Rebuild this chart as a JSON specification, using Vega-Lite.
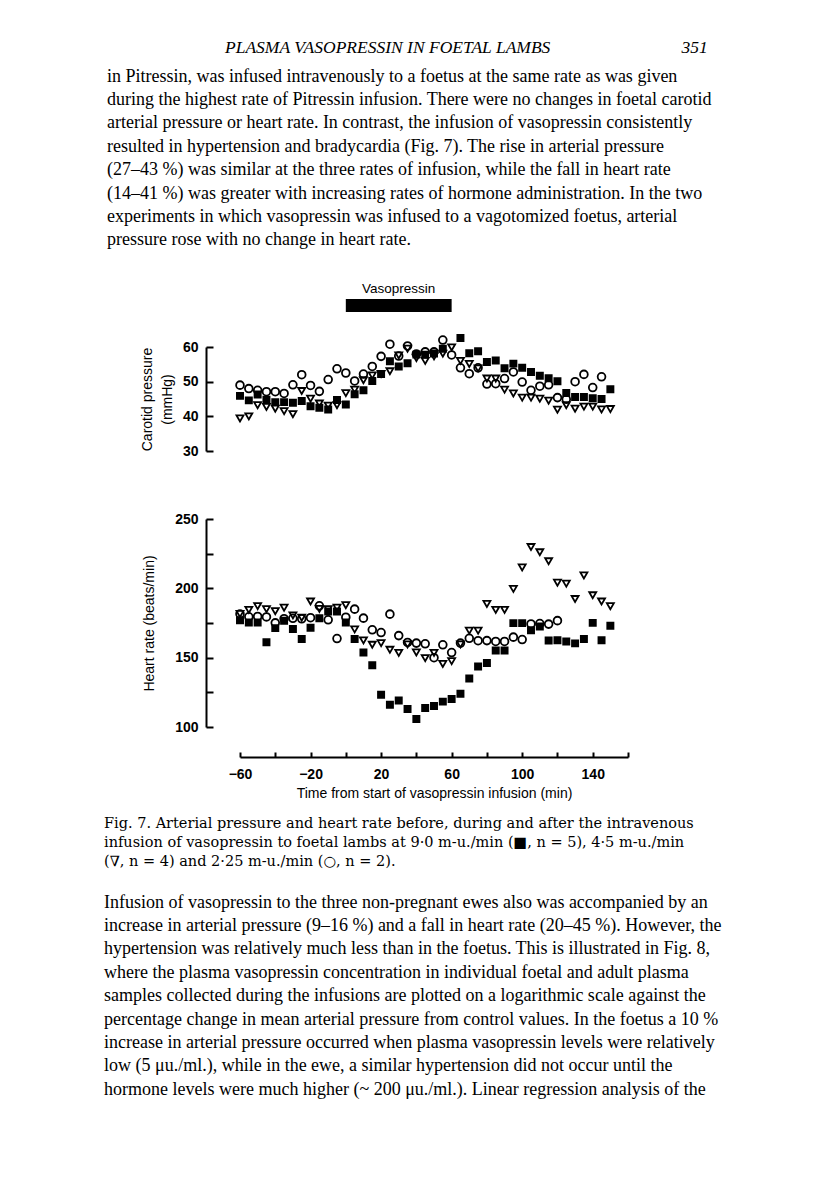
{
  "$schema": "https://vega.github.io/schema/vega-lite/v6.json",
  "background": "white",
  "padding": {"left": 104, "top": 39, "right": 5, "bottom": 5},
  "config": {
    "view": {"stroke": null},
    "axis": {"domainColor": "black", "domainWidth": 2, "tickColor": "black", "tickWidth": 2, "grid": false,
      "labelFont": "Liberation Sans", "labelFontWeight": "bold", "labelFontSize": 14, "labelColor": "black",
      "titleFont": "Liberation Sans", "titleFontSize": 14, "titleFontWeight": "normal", "titleColor": "black"}
  },
  "title": {
    "text": "PLASMA VASOPRESSIN IN FOETAL LAMBS\u2003\u2003\u2003\u2003\u2003\u2003\u2003\u2002351",
    "font": "Liberation Serif", "fontStyle": "italic", "fontSize": 17.5, "fontWeight": "normal", "color": "black",
    "anchor": "start", "frame": "group", "dx": -15, "offset": 11
  },
  "datasets": {
    "pressure": [
      {"t": -60, "dose": "9.0", "v": 45.9}, {"t": -55, "dose": "9.0", "v": 44.6}, {"t": -50, "dose": "9.0", "v": 46.3}, {"t": -45, "dose": "9.0", "v": 44.8}, {"t": -40, "dose": "9.0", "v": 44.1}, {"t": -35, "dose": "9.0", "v": 44.1}, {"t": -30, "dose": "9.0", "v": 43.9}, {"t": -25, "dose": "9.0", "v": 44.4}, {"t": -20, "dose": "9.0", "v": 42.9}, {"t": -15, "dose": "9.0", "v": 42.5}, {"t": -10, "dose": "9.0", "v": 42.0}, {"t": -5, "dose": "9.0", "v": 44.7}, {"t": 0, "dose": "9.0", "v": 43.4}, {"t": 5, "dose": "9.0", "v": 46.4}, {"t": 10, "dose": "9.0", "v": 47.5}, {"t": 15, "dose": "9.0", "v": 50.2}, {"t": 20, "dose": "9.0", "v": 52.2}, {"t": 25, "dose": "9.0", "v": 55.9}, {"t": 30, "dose": "9.0", "v": 54.4}, {"t": 35, "dose": "9.0", "v": 55.3}, {"t": 40, "dose": "9.0", "v": 57.8}, {"t": 45, "dose": "9.0", "v": 57.8}, {"t": 50, "dose": "9.0", "v": 58.1}, {"t": 55, "dose": "9.0", "v": 59.5}, {"t": 65, "dose": "9.0", "v": 62.6}, {"t": 70, "dose": "9.0", "v": 58.2}, {"t": 75, "dose": "9.0", "v": 58.8}, {"t": 80, "dose": "9.0", "v": 55.7}, {"t": 85, "dose": "9.0", "v": 56.1}, {"t": 90, "dose": "9.0", "v": 53.9}, {"t": 95, "dose": "9.0", "v": 55.2}, {"t": 100, "dose": "9.0", "v": 54.0}, {"t": 105, "dose": "9.0", "v": 52.8}, {"t": 110, "dose": "9.0", "v": 51.7}, {"t": 115, "dose": "9.0", "v": 51.0}, {"t": 120, "dose": "9.0", "v": 50.1}, {"t": 125, "dose": "9.0", "v": 46.7}, {"t": 130, "dose": "9.0", "v": 45.6}, {"t": 135, "dose": "9.0", "v": 45.6}, {"t": 140, "dose": "9.0", "v": 45.2}, {"t": 145, "dose": "9.0", "v": 45.0}, {"t": 150, "dose": "9.0", "v": 47.8},
      {"t": -60, "dose": "4.5", "v": 39.4}, {"t": -55, "dose": "4.5", "v": 40.0}, {"t": -50, "dose": "4.5", "v": 43.2}, {"t": -45, "dose": "4.5", "v": 42.7}, {"t": -40, "dose": "4.5", "v": 42.2}, {"t": -35, "dose": "4.5", "v": 41.5}, {"t": -30, "dose": "4.5", "v": 40.6}, {"t": -25, "dose": "4.5", "v": 47.3}, {"t": -20, "dose": "4.5", "v": 45.1}, {"t": -15, "dose": "4.5", "v": 43.7}, {"t": -10, "dose": "4.5", "v": 43.1}, {"t": -5, "dose": "4.5", "v": 43.2}, {"t": 0, "dose": "4.5", "v": 46.7}, {"t": 5, "dose": "4.5", "v": 47.7}, {"t": 10, "dose": "4.5", "v": 50.4}, {"t": 15, "dose": "4.5", "v": 51.8}, {"t": 20, "dose": "4.5", "v": 52.2}, {"t": 25, "dose": "4.5", "v": 53.0}, {"t": 30, "dose": "4.5", "v": 57.6}, {"t": 35, "dose": "4.5", "v": 59.5}, {"t": 40, "dose": "4.5", "v": 56.8}, {"t": 45, "dose": "4.5", "v": 56.0}, {"t": 50, "dose": "4.5", "v": 57.3}, {"t": 55, "dose": "4.5", "v": 58.1}, {"t": 60, "dose": "4.5", "v": 59.9}, {"t": 65, "dose": "4.5", "v": 56.0}, {"t": 70, "dose": "4.5", "v": 55.1}, {"t": 75, "dose": "4.5", "v": 53.8}, {"t": 80, "dose": "4.5", "v": 50.9}, {"t": 85, "dose": "4.5", "v": 50.9}, {"t": 90, "dose": "4.5", "v": 47.7}, {"t": 95, "dose": "4.5", "v": 46.6}, {"t": 100, "dose": "4.5", "v": 45.4}, {"t": 105, "dose": "4.5", "v": 45.4}, {"t": 110, "dose": "4.5", "v": 45.1}, {"t": 115, "dose": "4.5", "v": 44.5}, {"t": 120, "dose": "4.5", "v": 41.9}, {"t": 125, "dose": "4.5", "v": 43.2}, {"t": 130, "dose": "4.5", "v": 42.2}, {"t": 135, "dose": "4.5", "v": 42.8}, {"t": 140, "dose": "4.5", "v": 42.8}, {"t": 145, "dose": "4.5", "v": 42.0}, {"t": 150, "dose": "4.5", "v": 42.1},
      {"t": -60, "dose": "2.25", "v": 49.0}, {"t": -55, "dose": "2.25", "v": 48.0}, {"t": -50, "dose": "2.25", "v": 47.5}, {"t": -45, "dose": "2.25", "v": 47.1}, {"t": -40, "dose": "2.25", "v": 47.1}, {"t": -35, "dose": "2.25", "v": 46.6}, {"t": -30, "dose": "2.25", "v": 49.1}, {"t": -25, "dose": "2.25", "v": 52.0}, {"t": -20, "dose": "2.25", "v": 48.9}, {"t": -15, "dose": "2.25", "v": 47.2}, {"t": -10, "dose": "2.25", "v": 50.6}, {"t": -5, "dose": "2.25", "v": 53.7}, {"t": 0, "dose": "2.25", "v": 52.5}, {"t": 5, "dose": "2.25", "v": 50.2}, {"t": 10, "dose": "2.25", "v": 52.2}, {"t": 15, "dose": "2.25", "v": 54.4}, {"t": 20, "dose": "2.25", "v": 57.3}, {"t": 25, "dose": "2.25", "v": 60.8}, {"t": 30, "dose": "2.25", "v": 57.4}, {"t": 35, "dose": "2.25", "v": 60.3}, {"t": 40, "dose": "2.25", "v": 58.0}, {"t": 45, "dose": "2.25", "v": 58.6}, {"t": 50, "dose": "2.25", "v": 58.6}, {"t": 55, "dose": "2.25", "v": 62.0}, {"t": 60, "dose": "2.25", "v": 57.7}, {"t": 65, "dose": "2.25", "v": 54.0}, {"t": 70, "dose": "2.25", "v": 52.3}, {"t": 75, "dose": "2.25", "v": 54.0}, {"t": 80, "dose": "2.25", "v": 49.3}, {"t": 85, "dose": "2.25", "v": 49.4}, {"t": 90, "dose": "2.25", "v": 50.9}, {"t": 95, "dose": "2.25", "v": 52.8}, {"t": 100, "dose": "2.25", "v": 49.9}, {"t": 105, "dose": "2.25", "v": 47.5}, {"t": 110, "dose": "2.25", "v": 48.7}, {"t": 115, "dose": "2.25", "v": 49.1}, {"t": 120, "dose": "2.25", "v": 45.4}, {"t": 125, "dose": "2.25", "v": 44.9}, {"t": 130, "dose": "2.25", "v": 50.0}, {"t": 135, "dose": "2.25", "v": 52.1}, {"t": 140, "dose": "2.25", "v": 48.3}, {"t": 145, "dose": "2.25", "v": 51.4}
    ],
    "heart": [
      {"t": -60, "dose": "9.0", "v": 177.0}, {"t": -55, "dose": "9.0", "v": 175.4}, {"t": -50, "dose": "9.0", "v": 175.4}, {"t": -45, "dose": "9.0", "v": 161.1}, {"t": -40, "dose": "9.0", "v": 171.3}, {"t": -35, "dose": "9.0", "v": 176.6}, {"t": -30, "dose": "9.0", "v": 170.7}, {"t": -25, "dose": "9.0", "v": 163.4}, {"t": -20, "dose": "9.0", "v": 171.5}, {"t": -15, "dose": "9.0", "v": 178.5}, {"t": -10, "dose": "9.0", "v": 183.3}, {"t": -5, "dose": "9.0", "v": 183.3}, {"t": 0, "dose": "9.0", "v": 175.4}, {"t": 5, "dose": "9.0", "v": 163.5}, {"t": 10, "dose": "9.0", "v": 153.8}, {"t": 15, "dose": "9.0", "v": 144.5}, {"t": 20, "dose": "9.0", "v": 123.3}, {"t": 25, "dose": "9.0", "v": 116.1}, {"t": 30, "dose": "9.0", "v": 119.1}, {"t": 35, "dose": "9.0", "v": 113.0}, {"t": 40, "dose": "9.0", "v": 105.8}, {"t": 45, "dose": "9.0", "v": 113.7}, {"t": 50, "dose": "9.0", "v": 115.2}, {"t": 55, "dose": "9.0", "v": 118.3}, {"t": 60, "dose": "9.0", "v": 120.2}, {"t": 65, "dose": "9.0", "v": 124.0}, {"t": 70, "dose": "9.0", "v": 135.0}, {"t": 75, "dose": "9.0", "v": 143.7}, {"t": 80, "dose": "9.0", "v": 146.1}, {"t": 85, "dose": "9.0", "v": 155.1}, {"t": 90, "dose": "9.0", "v": 155.1}, {"t": 95, "dose": "9.0", "v": 174.9}, {"t": 100, "dose": "9.0", "v": 174.9}, {"t": 105, "dose": "9.0", "v": 169.8}, {"t": 110, "dose": "9.0", "v": 172.5}, {"t": 115, "dose": "9.0", "v": 162.4}, {"t": 120, "dose": "9.0", "v": 162.6}, {"t": 125, "dose": "9.0", "v": 161.7}, {"t": 130, "dose": "9.0", "v": 160.3}, {"t": 135, "dose": "9.0", "v": 163.4}, {"t": 140, "dose": "9.0", "v": 175.1}, {"t": 145, "dose": "9.0", "v": 162.6}, {"t": 150, "dose": "9.0", "v": 173.0},
      {"t": -60, "dose": "4.5", "v": 181.5}, {"t": -55, "dose": "4.5", "v": 184.5}, {"t": -50, "dose": "4.5", "v": 187.2}, {"t": -45, "dose": "4.5", "v": 185.0}, {"t": -40, "dose": "4.5", "v": 183.5}, {"t": -35, "dose": "4.5", "v": 186.0}, {"t": -30, "dose": "4.5", "v": 180.5}, {"t": -25, "dose": "4.5", "v": 178.8}, {"t": -20, "dose": "4.5", "v": 190.5}, {"t": -15, "dose": "4.5", "v": 185.2}, {"t": -10, "dose": "4.5", "v": 185.0}, {"t": -5, "dose": "4.5", "v": 186.0}, {"t": 0, "dose": "4.5", "v": 187.8}, {"t": 5, "dose": "4.5", "v": 170.4}, {"t": 10, "dose": "4.5", "v": 162.5}, {"t": 15, "dose": "4.5", "v": 159.3}, {"t": 20, "dose": "4.5", "v": 160.5}, {"t": 25, "dose": "4.5", "v": 155.7}, {"t": 30, "dose": "4.5", "v": 153.5}, {"t": 35, "dose": "4.5", "v": 159.5}, {"t": 40, "dose": "4.5", "v": 153.8}, {"t": 45, "dose": "4.5", "v": 149.7}, {"t": 50, "dose": "4.5", "v": 153.5}, {"t": 55, "dose": "4.5", "v": 145.5}, {"t": 60, "dose": "4.5", "v": 147.5}, {"t": 65, "dose": "4.5", "v": 159.6}, {"t": 70, "dose": "4.5", "v": 169.5}, {"t": 75, "dose": "4.5", "v": 169.5}, {"t": 80, "dose": "4.5", "v": 188.7}, {"t": 85, "dose": "4.5", "v": 184.5}, {"t": 90, "dose": "4.5", "v": 184.5}, {"t": 95, "dose": "4.5", "v": 199.6}, {"t": 100, "dose": "4.5", "v": 215.1}, {"t": 105, "dose": "4.5", "v": 229.8}, {"t": 110, "dose": "4.5", "v": 226.0}, {"t": 115, "dose": "4.5", "v": 219.5}, {"t": 120, "dose": "4.5", "v": 204.1}, {"t": 125, "dose": "4.5", "v": 203.4}, {"t": 130, "dose": "4.5", "v": 192.3}, {"t": 135, "dose": "4.5", "v": 209.3}, {"t": 140, "dose": "4.5", "v": 195.0}, {"t": 145, "dose": "4.5", "v": 190.5}, {"t": 150, "dose": "4.5", "v": 187.1},
      {"t": -60, "dose": "2.25", "v": 181.5}, {"t": -55, "dose": "2.25", "v": 179.5}, {"t": -50, "dose": "2.25", "v": 179.7}, {"t": -45, "dose": "2.25", "v": 179.4}, {"t": -40, "dose": "2.25", "v": 175.1}, {"t": -35, "dose": "2.25", "v": 178.1}, {"t": -30, "dose": "2.25", "v": 178.4}, {"t": -25, "dose": "2.25", "v": 178.0}, {"t": -20, "dose": "2.25", "v": 178.8}, {"t": -15, "dose": "2.25", "v": 187.4}, {"t": -10, "dose": "2.25", "v": 177.3}, {"t": -5, "dose": "2.25", "v": 163.8}, {"t": 0, "dose": "2.25", "v": 179.2}, {"t": 5, "dose": "2.25", "v": 185.0}, {"t": 10, "dose": "2.25", "v": 178.5}, {"t": 15, "dose": "2.25", "v": 170.1}, {"t": 20, "dose": "2.25", "v": 168.1}, {"t": 25, "dose": "2.25", "v": 181.4}, {"t": 30, "dose": "2.25", "v": 165.9}, {"t": 35, "dose": "2.25", "v": 161.0}, {"t": 40, "dose": "2.25", "v": 160.5}, {"t": 45, "dose": "2.25", "v": 160.0}, {"t": 50, "dose": "2.25", "v": 150.0}, {"t": 55, "dose": "2.25", "v": 159.3}, {"t": 60, "dose": "2.25", "v": 153.7}, {"t": 65, "dose": "2.25", "v": 160.5}, {"t": 70, "dose": "2.25", "v": 164.0}, {"t": 75, "dose": "2.25", "v": 162.2}, {"t": 80, "dose": "2.25", "v": 162.3}, {"t": 85, "dose": "2.25", "v": 161.7}, {"t": 90, "dose": "2.25", "v": 161.7}, {"t": 95, "dose": "2.25", "v": 164.8}, {"t": 100, "dose": "2.25", "v": 163.1}, {"t": 105, "dose": "2.25", "v": 174.3}, {"t": 110, "dose": "2.25", "v": 174.6}, {"t": 115, "dose": "2.25", "v": 174.2}, {"t": 120, "dose": "2.25", "v": 176.7}
    ]
  },
  "vconcat": [
    {
      "width": 388, "height": 13,
      "title": {
        "text": [
          "in Pitressin, was infused intravenously to a foetus at the same rate as was given",
          "during the highest rate of Pitressin infusion. There were no changes in foetal carotid",
          "arterial pressure or heart rate. In contrast, the infusion of vasopressin consistently",
          "resulted in hypertension and bradycardia (Fig. 7). The rise in arterial pressure",
          "(27–43 %) was similar at the three rates of infusion, while the fall in heart rate",
          "(14–41 %) was greater with increasing rates of hormone administration. In the two",
          "experiments in which vasopressin was infused to a vagotomized foetus, arterial",
          "pressure rose with no change in heart rate."
        ],
        "font": "Liberation Serif", "fontSize": 18, "fontWeight": "normal", "color": "black",
        "lineHeight": 23.4, "anchor": "start", "frame": "group", "dx": -133, "offset": 32
      },
      "data": {"values": [{"event": "Vasopressin", "start": 0, "end": 60}]},
      "transform": [{"calculate": "(datum.start + datum.end) / 2", "as": "mid"}],
      "layer": [
        {
          "mark": {"type": "rect", "color": "black"},
          "encoding": {
            "x": {"field": "start", "type": "quantitative", "scale": {"domain": [-60, 160], "nice": false, "zero": false}, "axis": null},
            "x2": {"field": "end"}
          }
        },
        {
          "mark": {"type": "text", "dy": -17, "font": "Liberation Sans", "fontSize": 13.5, "color": "black"},
          "encoding": {
            "x": {"field": "mid", "type": "quantitative", "scale": {"domain": [-60, 160], "nice": false, "zero": false}, "axis": null},
            "text": {"field": "event"}
          }
        }
      ]
    },
    {
      "vconcat": [
        {
          "width": 388, "height": 104,
          "data": {"name": "pressure"},
          "mark": {"type": "point", "opacity": 1, "strokeWidth": 1.8},
          "encoding": {
            "x": {"field": "t", "type": "quantitative", "scale": {"domain": [-60, 160], "nice": false, "zero": false}, "axis": null},
            "y": {"field": "v", "type": "quantitative", "scale": {"domain": [30, 60], "nice": false, "zero": false},
              "axis": {"values": [30, 40, 50, 60], "offset": 34, "tickSize": -7, "labelPadding": 15,
                "title": ["Carotid pressure", "(mmHg)"], "titleLineHeight": 20, "titlePadding": 8}},
            "shape": {"field": "dose", "type": "nominal", "scale": {"domain": ["9.0", "4.5", "2.25"], "range": ["square", "triangle-down", "circle"]}, "legend": null},
            "fill": {"field": "dose", "type": "nominal", "scale": {"domain": ["9.0", "4.5", "2.25"], "range": ["black", "transparent", "transparent"]}, "legend": null},
            "size": {"field": "dose", "type": "nominal", "scale": {"domain": ["9.0", "4.5", "2.25"], "range": [38, 60, 44]}, "legend": null},
            "stroke": {"value": "black"}
          }
        },
        {
          "width": 388, "height": 208,
          "title": {
            "text": [
              "Fig. 7. Arterial pressure and heart rate before, during and after the intravenous",
              "infusion of vasopressin to foetal lambs at 9·0 m-u./min (■, n = 5), 4·5 m-u./min",
              "(∇, n = 4) and 2·25 m-u./min (○, n = 2)."
            ],
            "orient": "bottom", "anchor": "start", "frame": "group", "dx": -136, "offset": 17,
            "font": "DejaVu Serif", "fontSize": 14.5, "fontWeight": "normal", "color": "black", "lineHeight": 19,
            "subtitle": [
              "Infusion of vasopressin to the three non-pregnant ewes also was accompanied by an",
              "increase in arterial pressure (9–16 %) and a fall in heart rate (20–45 %). However, the",
              "hypertension was relatively much less than in the foetus. This is illustrated in Fig. 8,",
              "where the plasma vasopressin concentration in individual foetal and adult plasma",
              "samples collected during the infusions are plotted on a logarithmic scale against the",
              "percentage change in mean arterial pressure from control values. In the foetus a 10 %",
              "increase in arterial pressure occurred when plasma vasopressin levels were relatively",
              "low (5 μu./ml.), while in the ewe, a similar hypertension did not occur until the",
              "hormone levels were much higher (~ 200 μu./ml.). Linear regression analysis of the"
            ],
            "subtitleFont": "Liberation Serif", "subtitleFontSize": 18, "subtitleColor": "black", "subtitleLineHeight": 23.4, "subtitlePadding": 24
          },
          "data": {"name": "heart"},
          "mark": {"type": "point", "opacity": 1, "strokeWidth": 1.8},
          "encoding": {
            "x": {"field": "t", "type": "quantitative", "scale": {"domain": [-60, 160], "nice": false, "zero": false},
              "axis": {"values": [-60, -40, -20, 0, 20, 40, 60, 80, 100, 120, 140, 160], "labelExpr": "(datum.value + 60) % 40 === 0 ? datum.label : ''",
                "offset": 30, "tickSize": -5, "labelPadding": 15, "labelFlush": false, "title": "Time from start of vasopressin infusion (min)", "titlePadding": 5}},
            "y": {"field": "v", "type": "quantitative", "scale": {"domain": [100, 250], "nice": false, "zero": false},
              "axis": {"values": [100, 125, 150, 175, 200, 225, 250], "labelExpr": "datum.value % 50 === 0 ? datum.label : ''", "offset": 34, "tickSize": -7, "labelPadding": 15,
                "title": "Heart rate (beats/min)", "titlePadding": 18}},
            "shape": {"field": "dose", "type": "nominal", "scale": {"domain": ["9.0", "4.5", "2.25"], "range": ["square", "triangle-down", "circle"]}, "legend": null},
            "fill": {"field": "dose", "type": "nominal", "scale": {"domain": ["9.0", "4.5", "2.25"], "range": ["black", "transparent", "transparent"]}, "legend": null},
            "size": {"field": "dose", "type": "nominal", "scale": {"domain": ["9.0", "4.5", "2.25"], "range": [38, 60, 44]}, "legend": null},
            "stroke": {"value": "black"}
          }
        }
      ],
      "spacing": 68,
      "bounds": "flush",
      "resolve": {"scale": {"x": "independent", "y": "independent", "shape": "independent", "fill": "independent", "size": "independent"}}
    }
  ],
  "spacing": 35,
  "bounds": "flush",
  "resolve": {"scale": {"x": "independent", "y": "independent"}}
}
